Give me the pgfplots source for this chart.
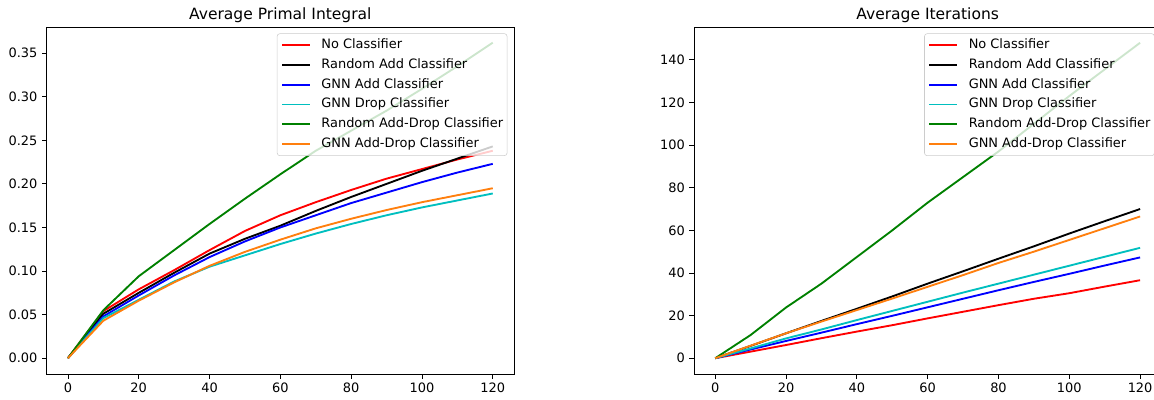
\documentclass[border=0pt]{standalone}
\usepackage{pgfplots}
\usepackage{pgfplotstable}
\pgfplotsset{compat=1.18}
\usepackage{fontspec}
\setmainfont{DejaVu Sans}
\definecolor{mplred}{HTML}{FF0000}
\definecolor{mplblue}{HTML}{0000FF}
\definecolor{mplcyan}{HTML}{00BFBF}
\definecolor{mplgreen}{HTML}{008000}
\definecolor{mplorange}{HTML}{FF7F0E}
\definecolor{legframe}{HTML}{CCCCCC}

\pgfplotstableread{
x   red    black  blue   cyan   green  orange
0   0.000  0.000  0.000  0.000  0.000  0.000
10  0.054  0.051  0.048  0.046  0.055  0.043
20  0.079  0.075  0.072  0.067  0.094  0.066
30  0.101  0.098  0.095  0.088  0.124  0.087
40  0.124  0.120  0.116  0.105  0.154  0.106
50  0.146  0.137  0.134  0.118  0.183  0.122
60  0.164  0.152  0.150  0.131  0.211  0.136
70  0.179  0.169  0.164  0.143  0.238  0.149
80  0.193  0.185  0.178  0.154  0.261  0.160
90  0.206  0.200  0.190  0.164  0.284  0.170
100 0.217  0.215  0.202  0.173  0.309  0.179
110 0.228  0.229  0.213  0.181  0.335  0.187
120 0.238  0.243  0.223  0.189  0.362  0.195
}\primal

\pgfplotstableread{
x   red    black  blue   cyan   green  orange
0   0.0    0.0    0.0    0.0    0.0    0.0
10  3.1    5.8    4.1    4.6    10.9   5.9
20  6.2    11.7   8.1    9.3    23.8   11.7
30  9.4    17.5   12.0   13.5   35.0   17.2
40  12.5   23.2   16.0   17.9   47.5   22.6
50  15.5   29.0   19.9   22.2   60.0   28.0
60  18.7   35.0   23.9   26.5   73.0   33.5
70  21.8   40.8   27.9   30.8   85.0   39.0
80  24.9   46.7   31.9   35.0   97.0   44.7
90  27.9   52.5   35.8   39.2   110.0  50.0
100 30.5   58.5   39.6   43.4   123.0  55.5
110 33.6   64.3   43.5   47.6   135.5  61.0
120 36.6   70.0   47.3   51.8   148.0  66.5
}\iters

\pgfplotsset{
  legend image code/.code={\draw[line width=1.4pt,#1] (0pt,0pt) -- (20.8pt,0pt);},
}
\pgfplotsset{
  mystyle/.style={
    scale only axis, width=350.5pt, height=260.25pt,
    anchor=south west,
    xmin=-6, xmax=126,
    xtick={0,20,...,120},
    tick align=outside, major tick length=3.4pt,
    tick style={black, line width=0.6pt},
    axis line style={line width=0.6pt},
    tick pos=left,
    ticklabel style={font=\fontsize{9.7pt}{11pt}\selectfont},
    /pgf/number format/assume math mode=true,
    title style={font=\fontsize{11.64pt}{13pt}\selectfont, at={(0.5,1)}, anchor=base, yshift=-0.2pt},
    every axis plot/.append style={line width=1.4pt},
    legend cell align=left,
    legend style={
      at={(1,1)}, anchor=north east, xshift=-5pt, yshift=-4.8pt,
      draw=legframe, fill=white, fill opacity=0.8, text opacity=1,
      rounded corners=2pt,
      font=\fontsize{9.7pt}{11pt}\selectfont,
      inner xsep=3pt, inner ysep=4pt,
      row sep=5.3pt, column sep=8pt,
      nodes={inner sep=0pt, text height=7.3pt, text depth=2.2pt},
    },
  }
}

\begin{document}
\begin{tikzpicture}
\begin{axis}[mystyle, at={(35pt,19.5pt)},
  ymin=-0.0181, ymax=0.38,
  ytick={0,0.05,...,0.351},
  scaled y ticks=false,
  yticklabel style={/pgf/number format/.cd, fixed, fixed zerofill, precision=2},
  title={Average Primal Integral}]
\addplot[color=mplred] table[x=x,y=red] {\primal};
\addlegendentry{No Classifier}
\addplot[color=black] table[x=x,y=black] {\primal};
\addlegendentry{Random Add Classifier}
\addplot[color=mplblue] table[x=x,y=blue] {\primal};
\addlegendentry{GNN Add Classifier}
\addplot[color=mplcyan] table[x=x,y=cyan] {\primal};
\addlegendentry{GNN Drop Classifier}
\addplot[color=mplgreen] table[x=x,y=green] {\primal};
\addlegendentry{Random Add-Drop Classifier}
\addplot[color=mplorange] table[x=x,y=orange] {\primal};
\addlegendentry{GNN Add-Drop Classifier}
\end{axis}

\begin{axis}[mystyle, at={(520.5pt,19.5pt)},
  ymin=-7.4, ymax=155.4,
  ytick={0,20,...,140},
  title={Average Iterations}]
\addplot[color=mplred] table[x=x,y=red] {\iters};
\addlegendentry{No Classifier}
\addplot[color=black] table[x=x,y=black] {\iters};
\addlegendentry{Random Add Classifier}
\addplot[color=mplblue] table[x=x,y=blue] {\iters};
\addlegendentry{GNN Add Classifier}
\addplot[color=mplcyan] table[x=x,y=cyan] {\iters};
\addlegendentry{GNN Drop Classifier}
\addplot[color=mplgreen] table[x=x,y=green] {\iters};
\addlegendentry{Random Add-Drop Classifier}
\addplot[color=mplorange] table[x=x,y=orange] {\iters};
\addlegendentry{GNN Add-Drop Classifier}
\end{axis}
\pgfresetboundingbox
\useasboundingbox (0pt,0pt) rectangle (865.5pt,300pt);
\end{tikzpicture}
\end{document}
